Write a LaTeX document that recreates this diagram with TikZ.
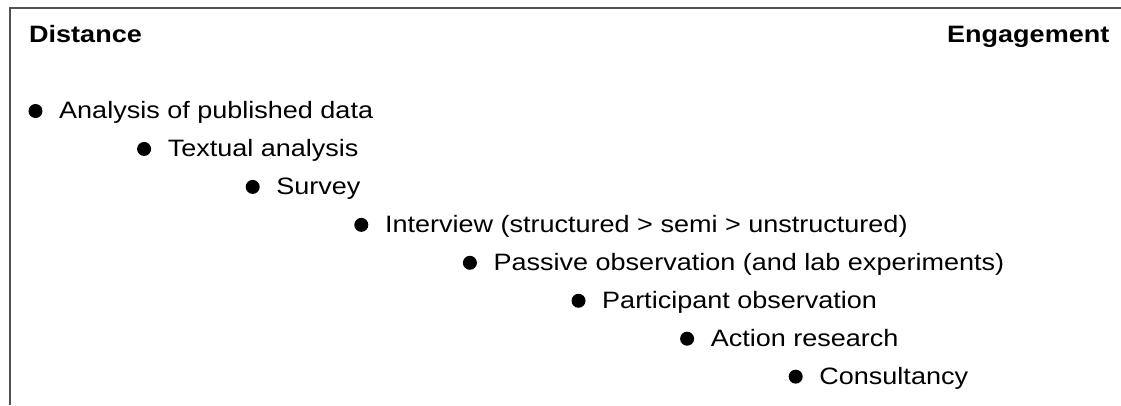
\documentclass[tikz,border=0pt]{standalone}
\usepackage{fontspec}
\setmainfont{Liberation Sans}[FakeStretch=1.14]
\begin{document}
\begin{tikzpicture}[x=1pt,y=-1pt,
  frame/.style={draw=black!68,line width=2pt},
  heading/.style={font=\fontsize{23.7}{28}\selectfont\bfseries,inner sep=0pt},
  bulletdot/.style={circle,fill=black,inner sep=0pt,minimum size=14pt},
  itemtext/.style={font=\fontsize{23.7}{28}\selectfont,inner sep=0pt,anchor=base west}]
\useasboundingbox (0,0) rectangle (1121,405);
% frame: top rule and left rule
\coordinate (tl) at (9.5,7.5);
\coordinate (tr) at (1121,7.5);
\coordinate (bl) at (9.5,405);
\draw[frame] (tr) -- (tl) -- (bl);
% scale end labels
\node[heading,anchor=base west] (dist) at (29,42.7) {Distance};
\node[heading,anchor=base east] (eng) at (1109.5,42.7) {Engagement};
% staircase of research methods
\foreach \i/\t in {0/Analysis of published data,
                   1/Textual analysis,
                   2/Survey,
                   3/Interview (structured > semi > unstructured),
                   4/Passive observation (and lab experiments),
                   5/Participant observation,
                   6/Action research,
                   7/Consultancy}{
  \node[bulletdot] (b\i) at ({35.5+108.6*\i},{111+37.95*\i}) {};
  \node[itemtext] (t\i) at ({59+108.6*\i},{118.5+37.95*\i}) {\t};
}
\end{tikzpicture}
\end{document}
